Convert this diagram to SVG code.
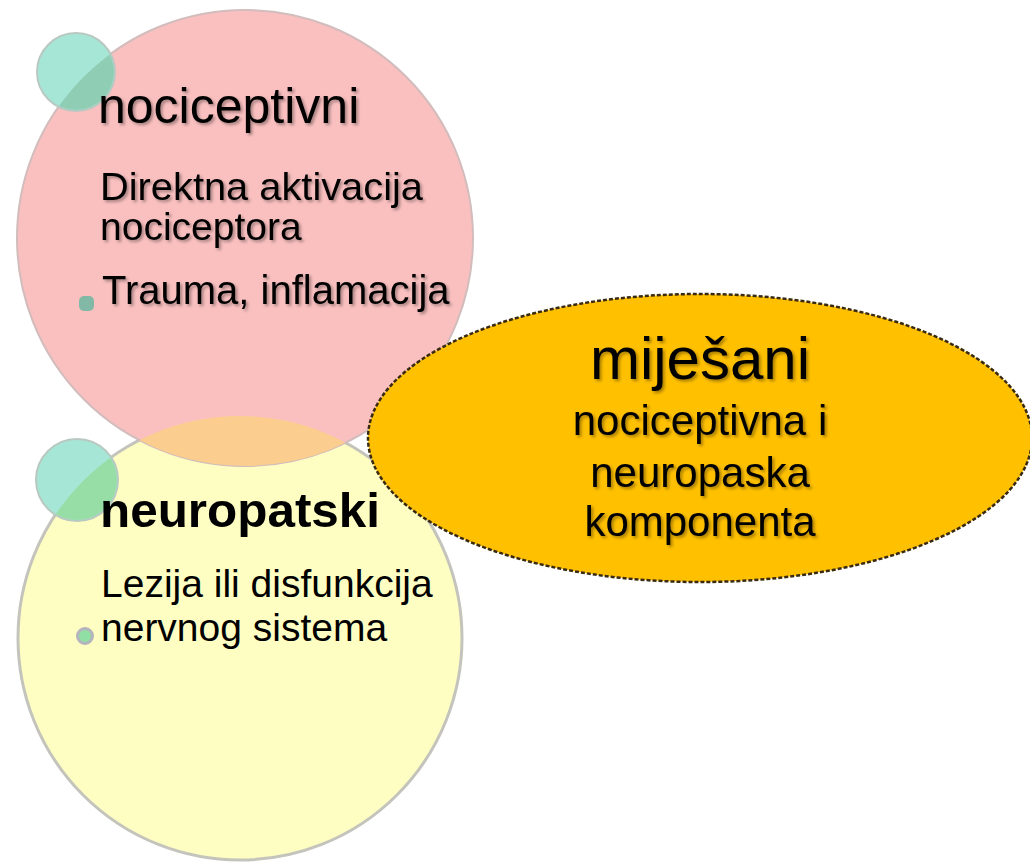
<svg xmlns="http://www.w3.org/2000/svg" width="1030" height="862" viewBox="0 0 1030 862">
<defs>
<style>
.t{font-family:"Liberation Sans",Arial,sans-serif;fill:#000}
.sh{filter:url(#sh)}
.ring{stroke:#b9c9c2;stroke-width:2}
</style>
<filter id="sh" x="-10%" y="-30%" width="130%" height="170%">
<feDropShadow dx="2" dy="2" stdDeviation="1.5" flood-color="#000" flood-opacity="0.35"/>
</filter>
<clipPath id="clipPink"><circle cx="245" cy="238" r="228"/></clipPath>
<clipPath id="clipYellow"><circle cx="240" cy="638" r="222"/></clipPath>
</defs>
<rect width="1030" height="862" fill="#ffffff"/>

<g id="node-neuropatski">
<circle cx="240" cy="638" r="222" fill="#fefec3" stroke="#c4c4bc" stroke-width="3"/>
<circle cx="77" cy="480" r="41" fill="#a6e6d6" class="ring"/>
<circle cx="77" cy="480" r="40" fill="#96dea6" clip-path="url(#clipYellow)"/>
<circle cx="85" cy="636" r="7.5" fill="#90e0a4" stroke="#b4b4bc" stroke-width="3"/>
<text class="t" x="100" y="527" font-size="48" font-weight="bold" textLength="280" lengthAdjust="spacingAndGlyphs">neuropatski</text>
<text class="t" x="101" y="597" font-size="39">Lezija ili disfunkcija</text>
<text class="t" x="101" y="641" font-size="39">nervnog sistema</text>
</g>

<g id="node-nociceptivni">
<circle cx="245" cy="238" r="228" fill="#fac0c0" stroke="#d2bcbc" stroke-width="2"/>
<g clip-path="url(#clipPink)">
<circle cx="240" cy="638" r="222" fill="#fbcd8e"/>
</g>
<circle cx="76" cy="72" r="39" fill="#a6e6d6" class="ring"/>
<circle cx="76" cy="72" r="38" fill="#8fcdb4" clip-path="url(#clipPink)"/>
<rect x="79" y="296" width="15" height="15" rx="5" fill="#82b9a6"/>
<text class="t sh" x="98" y="123" font-size="50">nociceptivni</text>
<text class="t sh" x="100" y="200" font-size="39" textLength="323" lengthAdjust="spacingAndGlyphs">Direktna aktivacija</text>
<text class="t sh" x="100" y="240" font-size="39">nociceptora</text>
<text class="t sh" x="102" y="304" font-size="40">Trauma, inflamacija</text>
</g>

<g id="connectors"></g>

<g id="node-mijesani">
<ellipse cx="700" cy="438" rx="332" ry="144" fill="#ffc000" stroke="#3a2a10" stroke-width="2.5" stroke-dasharray="4 2"/>
<text class="t sh" x="700" y="379" font-size="60" text-anchor="middle">miješani</text>
<text class="t sh" x="700" y="435" font-size="42" text-anchor="middle">nociceptivna i</text>
<text class="t sh" x="700" y="487" font-size="42" text-anchor="middle">neuropaska</text>
<text class="t sh" x="700" y="536" font-size="42" text-anchor="middle">komponenta</text>
</g>
</svg>
